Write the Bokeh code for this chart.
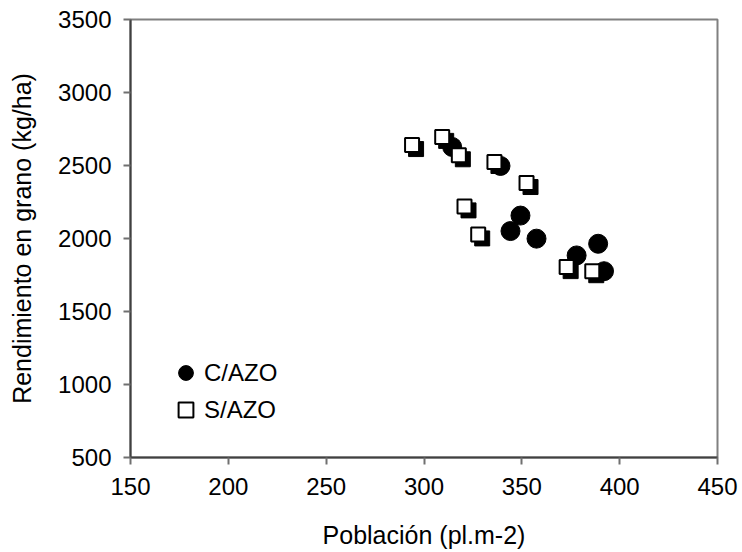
from bokeh.plotting import figure
from bokeh.models import Range1d, Legend, LegendItem, FixedTicker
from bokeh.embed import file_html
from bokeh.resources import INLINE

# C/AZO (filled circles)
c_x = [314.4, 339.1, 349.3, 344.2, 357.5, 389.0, 378.0, 392.0]
c_y = [2627, 2497, 2157, 2051, 1999, 1964, 1884, 1776]
# S/AZO (open squares)
s_x = [293.9, 309.3, 317.8, 336.0, 352.4, 320.7, 327.7, 372.9, 386.0]
s_y = [2640, 2696, 2570, 2524, 2380, 2220, 2028, 1804, 1776]

x_ticks = [150, 200, 250, 300, 350, 400, 450]
y_ticks = [500, 1000, 1500, 2000, 2500, 3000, 3500]

W, H = 742, 552
BL, BR, BT, BB = 130, 25, 19, 95
FONT = "Liberation Sans"

p = figure(width=W, height=H, output_backend="svg", toolbar_location=None,
           x_range=Range1d(150, 450), y_range=Range1d(500, 3500),
           min_border_left=BL, min_border_right=BR, min_border_top=BT, min_border_bottom=BB)

p.xgrid.visible = False
p.ygrid.visible = False
p.outline_line_color = "#808080"
p.outline_line_width = 2
p.background_fill_color = "white"
p.border_fill_color = "white"

for ax, ticks in ((p.xaxis[0], x_ticks), (p.yaxis[0], y_ticks)):
    ax.ticker = FixedTicker(ticks=ticks)
    ax.axis_line_color = "#404040"
    ax.axis_line_width = 2
    ax.major_tick_line_color = "#707070"
    ax.major_tick_line_width = 2
    ax.major_tick_in = 0
    ax.major_tick_out = 7
    ax.minor_tick_line_color = None
    ax.major_label_text_font = FONT
    ax.major_label_text_font_size = "24px"
    ax.major_label_text_color = "black"
    ax.axis_label_text_font = FONT
    ax.axis_label_text_font_size = "25px"
    ax.axis_label_text_font_style = "normal"
    ax.axis_label_text_color = "black"

p.xaxis.axis_label = "Población (pl.m-2)"
p.yaxis.axis_label = "Rendimiento en grano (kg/ha)"
p.xaxis.major_label_standoff = 13
p.yaxis.major_label_standoff = 12
p.xaxis.axis_label_standoff = 23
p.yaxis.axis_label_standoff = 19

# shadow offset in screen pixels converted to data units
fw = W - BL - BR
fh = H - BT - BB
dx = 4 * (450 - 150) / fw
dy = 4 * (3500 - 500) / fh

rc = p.scatter(c_x, c_y, marker="circle", size=19, fill_color="black", line_color="black")
p.scatter([x + dx for x in s_x], [y - dy for y in s_y], marker="square", size=15,
          fill_color="black", line_color="black")
rs = p.scatter(s_x, s_y, marker="square", size=14, fill_color="white",
               line_color="black", line_width=2)

legend = Legend(items=[LegendItem(label="C/AZO", renderers=[rc]),
                       LegendItem(label="S/AZO", renderers=[rs])],
                location=(37, 29), glyph_width=37, glyph_height=37,
                label_height=37, label_standoff=-6, spacing=0, padding=0, margin=0,
                border_line_color=None, background_fill_alpha=0,
                label_text_font=FONT, label_text_font_size="24px",
                label_text_color="black")
p.add_layout(legend)

open("out.html", "w").write(file_html(p, INLINE))
